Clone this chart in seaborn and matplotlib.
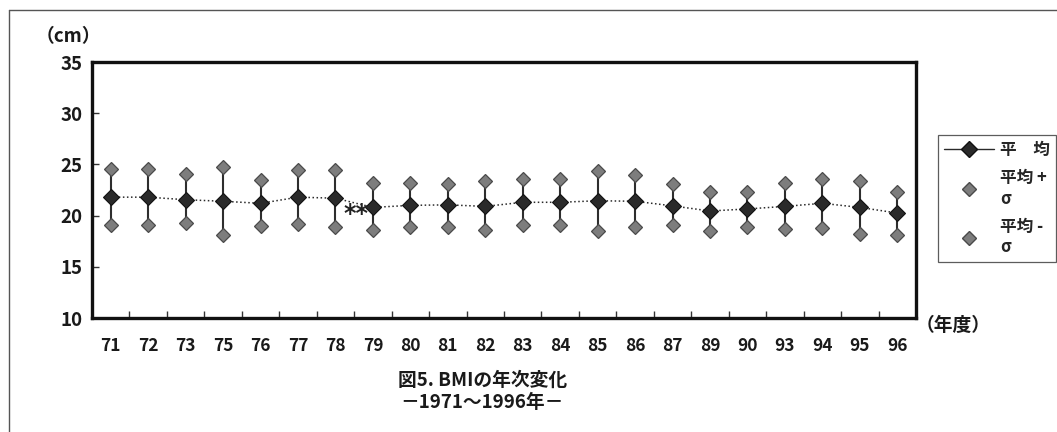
import matplotlib
matplotlib.use("Agg")
import matplotlib.pyplot as plt
import seaborn as sns
import pandas as pd
import numpy as np
from matplotlib.lines import Line2D
from matplotlib.ticker import FixedLocator

years = ["71", "72", "73", "75", "76", "77", "78", "79", "80", "81", "82",
         "83", "84", "85", "86", "87", "89", "90", "93", "94", "95", "96"]
mean_vals = [21.8, 21.8, 21.55, 21.4, 21.2, 21.8, 21.7, 20.8, 21.0, 21.05, 20.9,
             21.3, 21.3, 21.45, 21.4, 20.95, 20.45, 20.65, 20.9, 21.2, 20.8, 20.25]
upper_vals = [24.55, 24.55, 24.1, 24.75, 23.5, 24.5, 24.5, 23.2, 23.2, 23.1, 23.35,
              23.55, 23.55, 24.35, 24.0, 23.1, 22.35, 22.3, 23.2, 23.6, 23.35, 22.35]
lower_vals = [19.1, 19.1, 19.25, 18.1, 19.0, 19.2, 18.9, 18.6, 18.9, 18.9, 18.6,
              19.1, 19.1, 18.5, 18.85, 19.1, 18.5, 18.85, 18.7, 18.8, 18.25, 18.1]
y_ticks = [10, 15, 20, 25, 30, 35]

sns.set_theme(style="white")
plt.rcParams['font.family'] = ['Noto Sans CJK JP', 'DejaVu Sans']

df = pd.DataFrame({"year": years, "mean": mean_vals,
                   "upper": upper_vals, "lower": lower_vals})

fig = plt.figure(figsize=(10.57, 4.32), dpi=100)
ax = fig.add_axes([92/1057, 1-318/432, (916-92)/1057, (318-62)/432])

dark = "#2a2a2a"
gray = "#7d7d7d"
gedge = "#4a4a4a"

# vertical sigma bars
ax.vlines(np.arange(len(years)), df["lower"], df["upper"], colors="#2e2e2e", lw=1.5, zorder=1)

sns.pointplot(data=df, x="year", y="mean", ax=ax, color=dark, markers="D",
              linestyles=":", errorbar=None, linewidth=1.1, markersize=8,
              markeredgewidth=0.8, markeredgecolor="#111111", zorder=3)
sns.pointplot(data=df, x="year", y="upper", ax=ax, color=gray, markers="D",
              linestyles="none", errorbar=None, markersize=7,
              markeredgewidth=0.9, markeredgecolor=gedge, zorder=3)
sns.pointplot(data=df, x="year", y="lower", ax=ax, color=gray, markers="D",
              linestyles="none", errorbar=None, markersize=7,
              markeredgewidth=0.9, markeredgecolor=gedge, zorder=3)

ax.set_xlim(-0.5, len(years) - 0.5)
ax.set_ylim(10, 35)
ax.set_yticks(y_ticks)
ax.set_xlabel("")
ax.set_ylabel("")
for s in ax.spines.values():
    s.set_visible(True)
    s.set_color("#111111")
    s.set_linewidth(2.4)

ax.tick_params(axis="y", which="major", direction="in", length=5, width=1,
               color="#333333", left=True, pad=7, labelsize=13.5)
ax.tick_params(axis="x", which="major", length=0, pad=14, labelsize=12.5)
ax.xaxis.set_minor_locator(FixedLocator(np.arange(0.5, len(years) - 1, 1.0)))
ax.tick_params(axis="x", which="minor", direction="in", length=5, width=1,
               color="#333333", bottom=True)
for lab in ax.get_xticklabels() + ax.get_yticklabels():
    lab.set_fontweight("bold")
    lab.set_color("#1a1a1a")

# significance mark
ax.annotate("**", xy=(7, mean_vals[7]), xytext=(-3, -5), textcoords="offset points",
            ha="right", va="center", fontsize=17, fontweight="bold", color="#222222",
            family="DejaVu Sans")

# legend
handles = [
    Line2D([], [], color=dark, lw=1, marker="D", markersize=8,
           markeredgecolor="#111111"),
    Line2D([], [], color=gray, lw=0, marker="D", markersize=7,
           markeredgecolor=gedge),
    Line2D([], [], color=gray, lw=0, marker="D", markersize=7,
           markeredgecolor=gedge),
]
labels = ["平　均", "平均 +\nσ", "平均 -\nσ"]
leg = fig.legend(handles, labels, loc="upper left",
                 bbox_to_anchor=(938/1057, 1-135/432), bbox_transform=fig.transFigure,
                 frameon=True, fancybox=False, fontsize=12, handlelength=3.0,
                 handletextpad=0.4, labelspacing=0.6, borderpad=0.35,
                 borderaxespad=0)
leg.get_frame().set_edgecolor("#333333")
leg.get_frame().set_linewidth(0.9)
for t in leg.get_texts():
    t.set_fontweight("bold")

# texts
kw = dict(fontsize=13.5, fontweight="bold", color="#1a1a1a", va="center", ha="left")
fig.text(36/1057, 1-37/432, "（cm）", **kw)
fig.text(916/1057, 1-325/432, "（年度）", **kw)
fig.text(398/1057, 1-380/432, "図5. BMIの年次変化", **kw)
fig.text(400/1057, 1-402/432, "－1971～1996年－", **kw)

# outer frame
fig.add_artist(Line2D([9/1057, 9/1057], [0, 1-10/432], transform=fig.transFigure,
                      color="#555555", lw=1))
fig.add_artist(Line2D([9/1057, 1], [1-10/432, 1-10/432], transform=fig.transFigure,
                      color="#555555", lw=1))

fig.savefig("out.png", dpi=100, facecolor="white")
